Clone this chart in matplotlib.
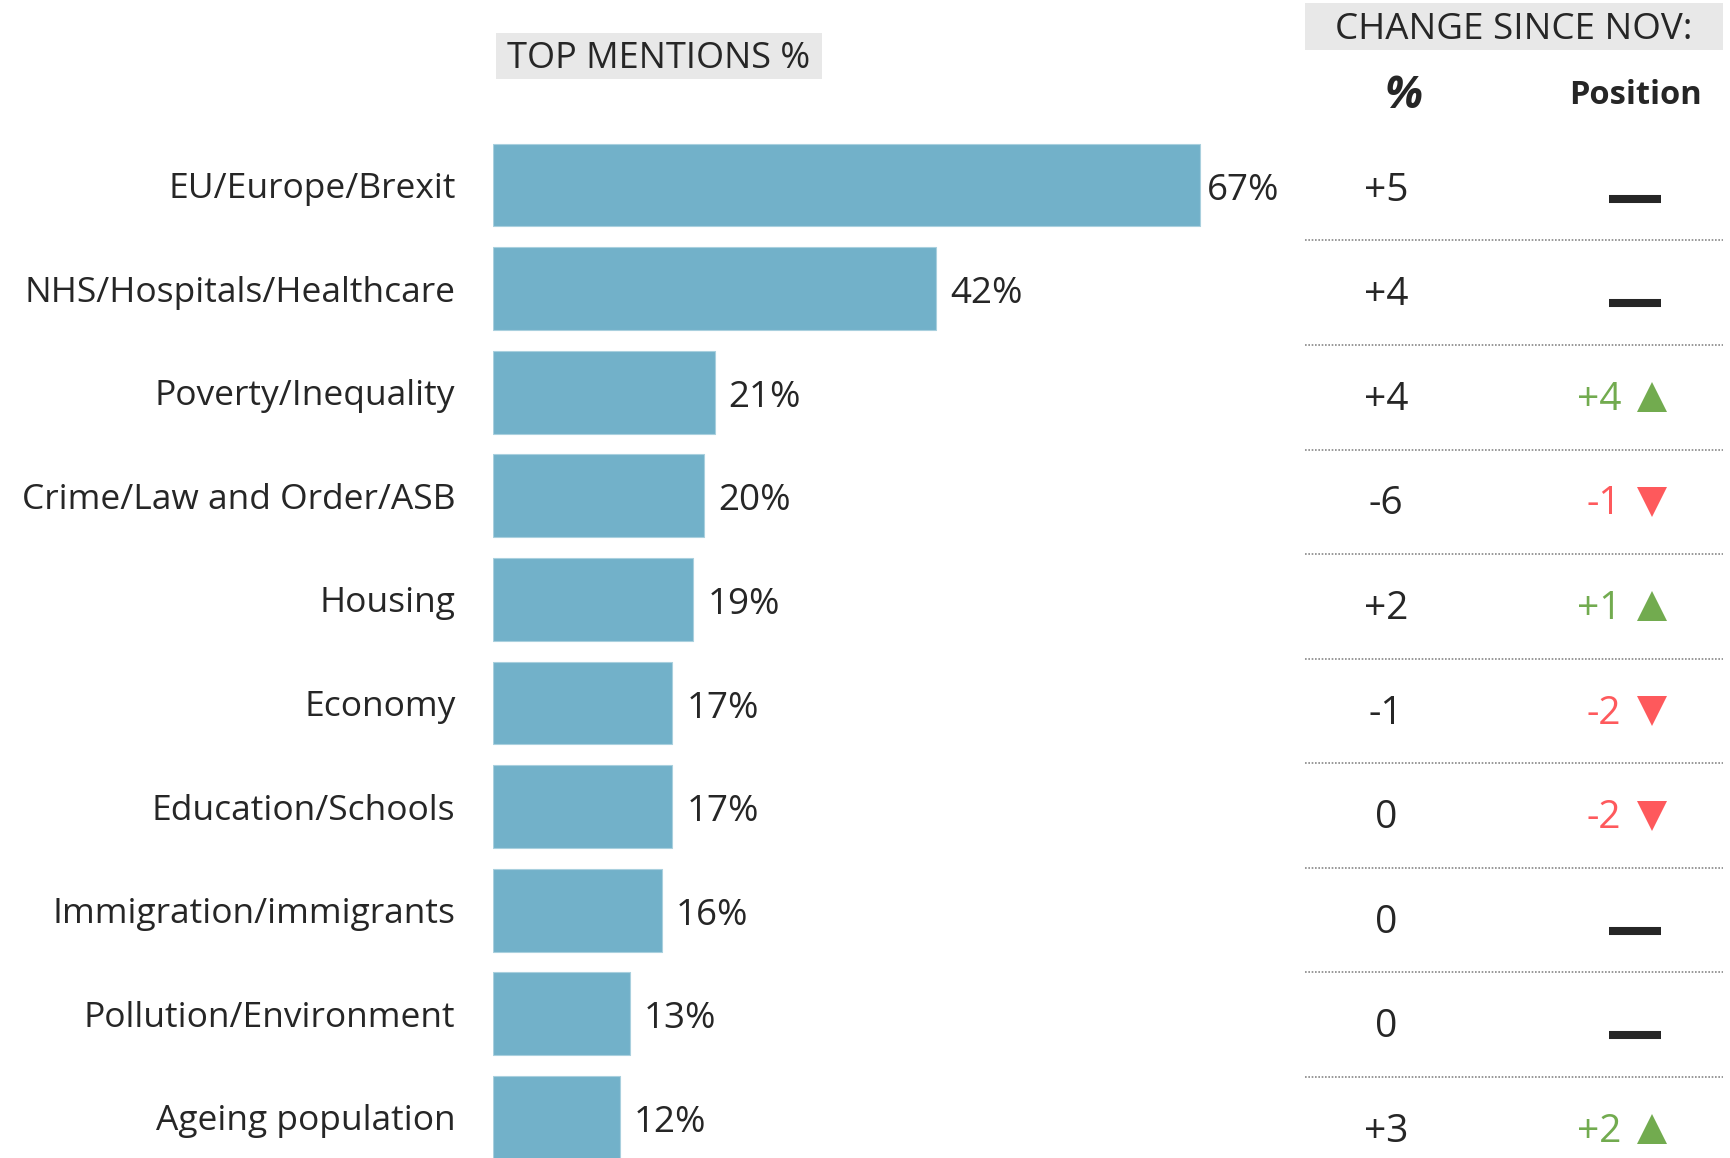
import matplotlib
matplotlib.use("Agg")
import matplotlib.pyplot as plt
from matplotlib.patches import Rectangle

plt.rcParams['font.family'] = ['Open Sans', 'DejaVu Sans']

categories = ["EU/Europe/Brexit", "NHS/Hospitals/Healthcare", "Poverty/Inequality",
              "Crime/Law and Order/ASB", "Housing", "Economy", "Education/Schools",
              "Immigration/immigrants", "Pollution/Environment", "Ageing population"]
mentions = [67, 42, 21, 20, 19, 17, 17, 16, 13, 12]
pct_change = ["+5", "+4", "+4", "-6", "+2", "-1", "0", "0", "0", "+3"]
pos_change = [0, 0, 4, -1, 1, -2, -2, 0, 0, 2]

TEXT = '#262626'
BAR = '#72b1c9'
GREEN = '#72ab4f'
RED = '#fe595c'
HEAD_BG = '#e8e8e8'

W, H = 1730, 1158
n = len(categories)
fig = plt.figure(figsize=(W / 100, H / 100), dpi=100)

# bar axes: 10.55 px per percent, rows 103.6 px apart
row_px = 103.6
top_px = 185 - row_px / 2
bot_px = top_px + row_px * n
ax = fig.add_axes([493 / W, (H - bot_px) / H, 70 * 10.55 / W, (bot_px - top_px) / H])
y = list(range(n))
ax.barh(y, mentions, height=0.8, color=BAR, edgecolor='#a9d0de', linewidth=0.8)
ax.set_xlim(0, 70)
ax.set_ylim(n - 0.5, -0.5)
ax.set_yticks(y)
ax.set_yticklabels(categories, fontsize=25.5, color=TEXT)
ax.tick_params(axis='y', length=0, pad=27)
ax.set_xticks([])
for s in ax.spines.values():
    s.set_visible(False)
for i, v in enumerate(mentions):
    off = 5 if i == 0 else 10
    ax.annotate(f"{v}%", (v, i), xytext=(off, -4), textcoords='offset points',
                ha='left', va='center', fontsize=26.5, color=TEXT)

# change table axes, its rows are a little taller than the bar rows
row2 = 104.56
top2 = 188.2 - row2 / 2
bot2 = top2 + row2 * n
ax2 = fig.add_axes([1305 / W, (H - bot2) / H, 418 / W, (bot2 - top2) / H])
ax2.set_xlim(0, 1)
ax2.set_ylim(n - 0.5, -0.5)
ax2.axis('off')
for i in range(n):
    ax2.text(0.194, i + 0.025, pct_change[i], ha='center', va='center', fontsize=28,
             color=TEXT)
    p = pos_change[i]
    if p == 0:
        ax2.plot([0.79], [i + 0.1], marker='_', markersize=37, markeredgewidth=5.8,
                 color=TEXT)
    else:
        col = GREEN if p > 0 else RED
        lab = f"+{p}" if p > 0 else f"{p}"
        ax2.text(0.757, i + 0.025, lab, ha='right', va='center', fontsize=28, color=col)
        ax2.plot([0.83], [i], marker='^' if p > 0 else 'v', markersize=21,
                 color=col, markeredgewidth=0)
    if i < n - 1:
        ax2.plot([0, 1], [i + 0.5, i + 0.5], color='#888888', linewidth=1.2,
                 linestyle=(0, (1, 1)))

# headers
fig.patches.append(Rectangle((496 / W, (H - 79) / H), 326 / W, 46 / H,
                             transform=fig.transFigure, facecolor=HEAD_BG, edgecolor='none'))
fig.text(659 / W, (H - 59) / H, "TOP MENTIONS %", ha='center', va='center',
         fontsize=26, color=TEXT)
fig.patches.append(Rectangle((1305 / W, (H - 50) / H), 418 / W, 47 / H,
                             transform=fig.transFigure, facecolor=HEAD_BG, edgecolor='none'))
fig.text(1514 / W, (H - 30) / H, "CHANGE SINCE NOV:", ha='center', va='center',
         fontsize=26.5, color=TEXT)
fig.text(1404 / W, (H - 97) / H, "%", ha='center', va='center', fontsize=32,
         fontweight='bold', fontstyle='italic', color=TEXT)
fig.text(1635 / W, (H - 95) / H, "Position", ha='center', va='center', fontsize=23.5,
         fontweight='bold', color=TEXT)

fig.savefig("out.png", dpi=100, facecolor='white')
